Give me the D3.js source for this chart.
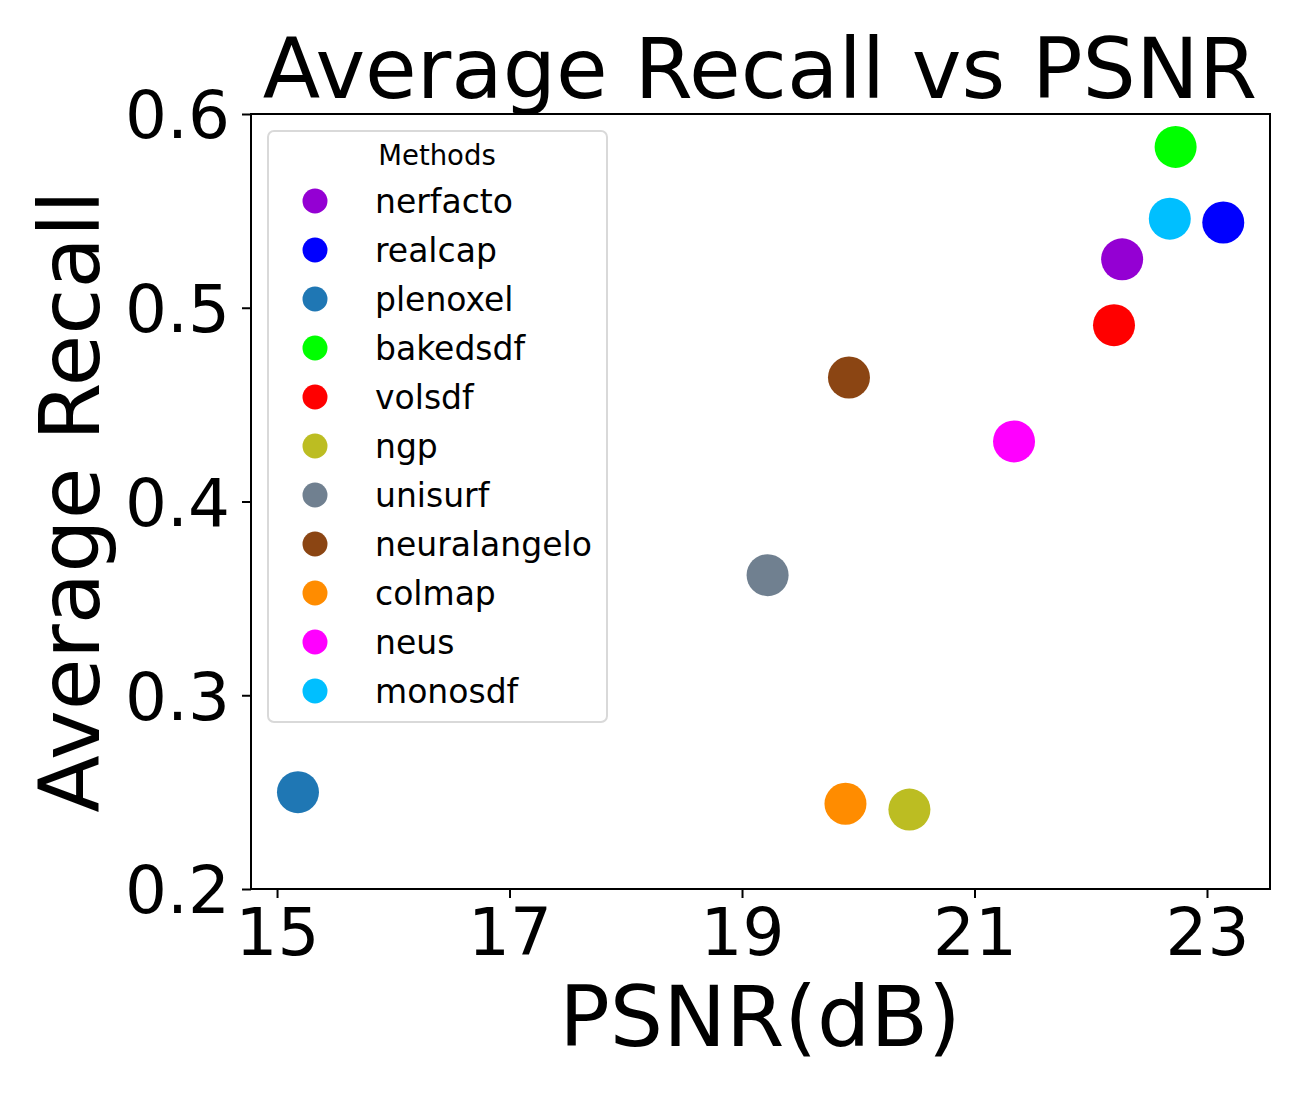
<!DOCTYPE html>
<html>
<head>
<meta charset="utf-8">
<script src="https://cdn.jsdelivr.net/npm/d3@7"></script>
<style>
  body { margin: 0; background: #fff; }
  text { font-family: "DejaVu Sans", sans-serif; fill: #000; }
</style>
</head>
<body>
<script>
const methods = ["nerfacto","realcap","plenoxel","bakedsdf","volsdf","ngp","unisurf","neuralangelo","colmap","neus","monosdf"];
const psnr =    [22.27, 23.14, 15.18, 22.73, 22.20, 20.44, 19.22, 19.92, 19.89, 21.34, 22.68];
const recall =  [0.525, 0.544, 0.250, 0.583, 0.491, 0.241, 0.362, 0.464, 0.244, 0.431, 0.546];
const colors =  ["#9400D3","#0000FF","#1f77b4","#00FF00","#FF0000","#bcbd22","#708090","#8B4513","#FF8C00","#FF00FF","#00BFFF"];
const xTicks = [15, 17, 19, 21, 23];
const yTicks = [0.2, 0.3, 0.4, 0.5, 0.6];

const W = 1300, H = 1100;
const plot = {left: 251, right: 1270, top: 114, bottom: 889};

const svg = d3.select("body").append("svg").attr("width", W).attr("height", H);

const x = d3.scaleLinear().domain([14.776, 23.542]).range([plot.left, plot.right]);
const y = d3.scaleLinear().domain([0.2, 0.6]).range([plot.bottom, plot.top]);

// points
const data = methods.map((m, i) => ({m, x: psnr[i], y: recall[i], c: colors[i]}));
svg.append("g").selectAll("circle").data(data).join("circle")
  .attr("cx", d => x(d.x)).attr("cy", d => y(d.y)).attr("r", 21)
  .attr("fill", d => d.c);

// axes
const xAxis = d3.axisBottom(x).tickValues(xTicks).tickFormat(d3.format("d")).tickSize(9).tickPadding(10);
const yAxis = d3.axisLeft(y).tickValues(yTicks).tickFormat(d3.format(".1f")).tickSize(9).tickPadding(12);

const gx = svg.append("g").attr("transform", `translate(0,${plot.bottom})`).call(xAxis);
const gy = svg.append("g").attr("transform", `translate(${plot.left},0)`).call(yAxis);
[gx, gy].forEach(g => {
  g.select(".domain").remove();
  g.selectAll(".tick line").attr("stroke", "#000").attr("stroke-width", 2);
  g.selectAll(".tick text").style("font-size", "66px").style("font-family", "DejaVu Sans");
});
gy.selectAll(".tick text").attr("dy", "0.36em");

// frame
svg.append("rect").attr("x", plot.left).attr("y", plot.top)
  .attr("width", plot.right - plot.left).attr("height", plot.bottom - plot.top)
  .attr("fill", "none").attr("stroke", "#000").attr("stroke-width", 2);

// title and labels
svg.append("text").attr("x", 760).attr("y", 98)
  .attr("text-anchor", "middle").style("font-size", "84px").text("Average Recall vs PSNR");
svg.append("text").attr("x", 760).attr("y", 1046)
  .attr("text-anchor", "middle").style("font-size", "84px").text("PSNR(dB)");
svg.append("text").attr("transform", `translate(99,${(plot.top + plot.bottom) / 2}) rotate(-90)`)
  .attr("text-anchor", "middle").style("font-size", "84px").text("Average Recall");

// legend
const lg = svg.append("g");
lg.append("rect").attr("x", 268).attr("y", 131).attr("width", 339).attr("height", 591)
  .attr("rx", 6).attr("fill", "#fff").attr("fill-opacity", 0.8)
  .attr("stroke", "#d9d9d9").attr("stroke-width", 2);
lg.append("text").attr("x", 437).attr("y", 165).attr("text-anchor", "middle")
  .style("font-size", "27.5px").text("Methods");
const rows = lg.selectAll("g.row").data(data).join("g").attr("class", "row")
  .attr("transform", (d, i) => `translate(0,${201 + i * 49})`);
rows.append("circle").attr("cx", 315).attr("cy", 0).attr("r", 12.5).attr("fill", d => d.c);
rows.append("text").attr("x", 375).attr("y", 0).attr("dy", "0.36em")
  .style("font-size", "33px").text(d => d.m);
</script>
</body>
</html>
